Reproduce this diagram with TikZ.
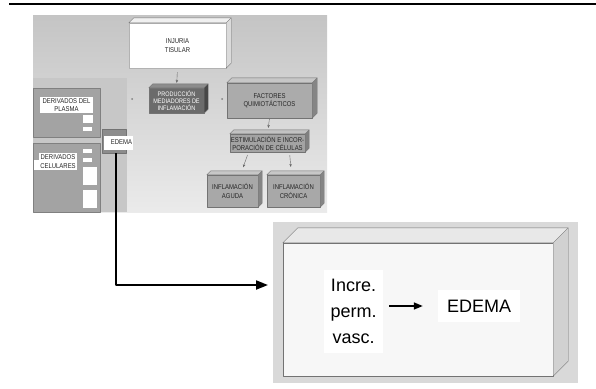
\documentclass[tikz,border=0pt]{standalone}
\usepackage{fontspec}
\setmainfont{Liberation Sans}
\newfontfamily\condfont[FakeStretch=0.85]{Liberation Sans}
\usetikzlibrary{arrows.meta}

\begin{document}
\begin{tikzpicture}[x=1pt,y=-1pt, line join=round, font=\condfont\fontsize{7}{8.5}\selectfont,
		caja/.style={draw=black!55, line width=0.3pt, inner sep=0pt, align=center, text=black!85},
		etiqueta/.style={fill=white, inner sep=1pt, align=center, text=black!85},
		flecha/.style={black!60, line width=0.4pt, -{Stealth[length=3pt,width=2.5pt]}}]
	\useasboundingbox (0,0) rectangle (596,388);
	\draw[line width=2pt] (9,4) -- (596,4);
	% panel gris
	\shade[top color=black!23, bottom color=black!8] (33,15) rectangle (327,212);
	\fill[black!22] (33,78) rectangle (127,212);
	\fill[black!50] (132,99) circle (1) (222,99) circle (1);
	\node[caja, fill=white, draw=black!30, minimum width=97, minimum height=45] (injuria) at (177.5,45.5) {INJURIA\\TISULAR};
	\node[caja, fill=black!58, text=white, minimum width=55, minimum height=25, font=\condfont\fontsize{6.5}{7}\selectfont] (produccion) at (176.5,100.5) {PRODUCCIÓN\\MEDIADORES DE\\INFLAMACIÓN};
	\node[caja, fill=black!33, minimum width=85, minimum height=35] (factores) at (269.5,100.5) {FACTORES\\QUIMIOTÁCTICOS};
	\node[caja, fill=black!36, minimum width=75, minimum height=18, font=\condfont\fontsize{7}{8}\selectfont] (estim) at (267.5,143) {ESTIMULACIÓN E INCOR-\\PORACIÓN DE CÉLULAS};
	\node[caja, fill=black!34, minimum width=51, minimum height=32] (aguda) at (232.5,191) {INFLAMACIÓN\\AGUDA};
	\node[caja, fill=black!34, minimum width=53, minimum height=32] (cronica) at (293.5,191) {INFLAMACIÓN\\CRÓNICA};
	% lado izquierdo
	\node[caja, fill=black!36, draw=black!50, minimum width=67, minimum height=49] (plasma) at (66.5,112.5) {};
	\node[caja, fill=black!36, draw=black!50, minimum width=67, minimum height=69] (celular) at (66.5,177.5) {};
	\foreach \a/\b/\c/\e in {83/115/93/123, 83/127/92/131, 83/149/92/153, 83/158/92/162, 83/167/97/185, 83/190/97/208, 34/160/41/170}
		\fill[white] (\a,\b) rectangle (\c,\e);
	\node[etiqueta, minimum width=53, minimum height=16] (plasmaL) at (66.5,105) {DERIVADOS DEL\\PLASMA};
	\node[etiqueta, minimum width=36, minimum height=17] (celularL) at (58,161.5) {DERIVADOS\\CELULARES};
	\node[caja, fill=black!45, minimum width=24, minimum height=24] (edemaC) at (114,141) {};
	\node[etiqueta, text width=27, align=right, minimum height=14] (edemaE) at (118.5,142.5) {EDEMA};
	% caja ampliada
	\fill[black!15] (273,222) rectangle (578,383);
	\node[caja, fill=black!3, minimum width=270, minimum height=133] (grande) at (418,309.5) {};
	\foreach \n/\d/\t/\s in {injuria/5/black!6/black!14, produccion/4/black!45/black!72, factores/5/black!22/black!48,
		estim/4/black!24/black!50, aguda/4/black!22/black!48, cronica/4/black!22/black!48, grande/15/black!9/black!18}
	{
		\filldraw[draw=black!55, line width=0.3pt, fill=\t] (\n.north west) -- ++(\d,-\d) -- ([shift={(\d,-\d)}]\n.north east) -- (\n.north east) -- cycle;
		\filldraw[draw=black!55, line width=0.3pt, fill=\s] (\n.north east) -- ++(\d,-\d) -- ([shift={(\d,-\d)}]\n.south east) -- (\n.south east) -- cycle;
	}
	\node[fill=white, inner sep=0pt, minimum width=59, minimum height=83, align=center, font=\fontsize{18}{26}\selectfont] (incre) at (353.5,311.5) {Incre.\\perm.\\vasc.};
	\node[fill=white, inner sep=0pt, minimum width=82, minimum height=32, font=\fontsize{18}{22}\selectfont] (edemaL) at (479,306) {EDEMA};
	\coordinate (tip) at (268,285);
	% flechas
	\draw[flecha, shorten <=4pt, shorten >=5pt] (injuria.south) -- (produccion.north);
	\draw[flecha, shorten <=1pt, shorten >=6pt] (factores.south) -- (estim.north);
	\draw[flecha, shorten <=3pt, shorten >=8pt] ([xshift=-19]estim.south) -- ([xshift=8]aguda.north);
	\draw[flecha, shorten <=3pt, shorten >=8pt] ([xshift=22]estim.south) -- ([xshift=-2]cronica.north);
	\draw[line width=2pt, -{Triangle[length=12pt,width=9pt]}] ([xshift=2]edemaC.south) |- (tip);
	\draw[line width=1.5pt, shorten <=6pt, shorten >=15pt, -{Triangle[length=9pt,width=7pt]}] (incre.east |- edemaL.west) -- (edemaL.west);
\end{tikzpicture}
\end{document}
